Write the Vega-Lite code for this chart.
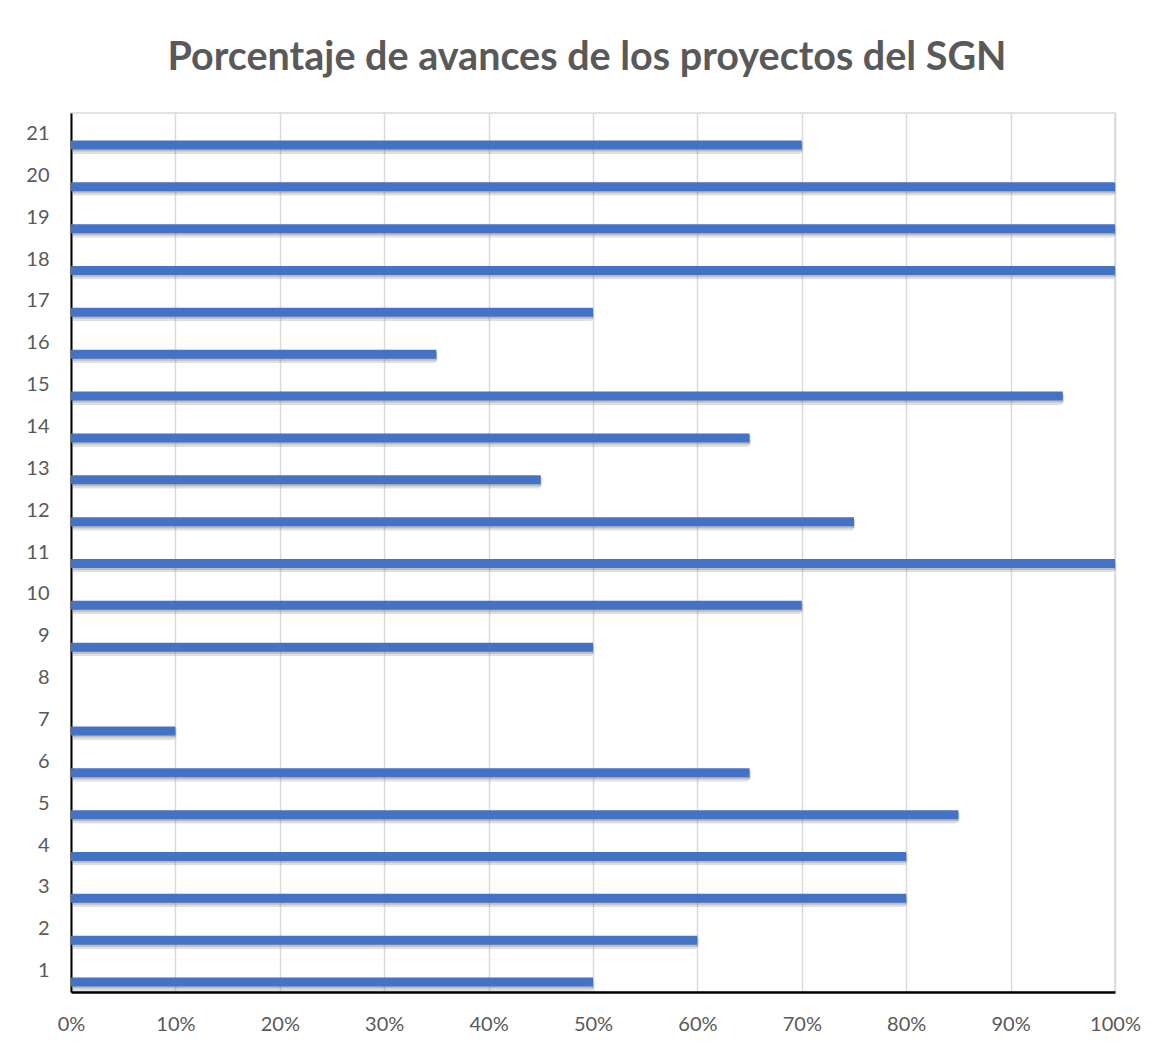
{
  "$schema": "https://vega.github.io/schema/vega-lite/v6.json",
  "autosize": "none",
  "width": 1044,
  "height": 879,
  "padding": {"left": 71, "top": 113, "right": 55, "bottom": 59},
  "background": "white",
  "title": {
    "text": "Porcentaje de avances de los proyectos del SGN",
    "font": "Lato",
    "fontSize": 39.5,
    "fontWeight": "bold",
    "color": "#595959",
    "anchor": "middle",
    "offset": 35,
    "dx": -6
  },
  "data": {
    "values": [
      {"proyecto": "1", "avance": 0.5},
      {"proyecto": "2", "avance": 0.6},
      {"proyecto": "3", "avance": 0.8},
      {"proyecto": "4", "avance": 0.8},
      {"proyecto": "5", "avance": 0.85},
      {"proyecto": "6", "avance": 0.65},
      {"proyecto": "7", "avance": 0.1},
      {"proyecto": "8", "avance": 0},
      {"proyecto": "9", "avance": 0.5},
      {"proyecto": "10", "avance": 0.7},
      {"proyecto": "11", "avance": 1.0},
      {"proyecto": "12", "avance": 0.75},
      {"proyecto": "13", "avance": 0.45},
      {"proyecto": "14", "avance": 0.65},
      {"proyecto": "15", "avance": 0.95},
      {"proyecto": "16", "avance": 0.35},
      {"proyecto": "17", "avance": 0.5},
      {"proyecto": "18", "avance": 1.0},
      {"proyecto": "19", "avance": 1.0},
      {"proyecto": "20", "avance": 1.0},
      {"proyecto": "21", "avance": 0.7}
    ]
  },
  "encoding": {
    "y": {
      "field": "proyecto",
      "type": "ordinal",
      "scale": {
        "domain": ["21","20","19","18","17","16","15","14","13","12","11","10","9","8","7","6","5","4","3","2","1"],
        "paddingInner": 0,
        "paddingOuter": 0
      },
      "axis": {
        "title": null,
        "domainColor": "#000000",
        "domainWidth": 2,
        "ticks": false,
        "labelPadding": 22,
        "labelFont": "Lato",
        "labelFontSize": 20,
        "labelColor": "#595959",
        "grid": false
      }
    },
    "x": {
      "field": "avance",
      "type": "quantitative",
      "scale": {"domain": [0, 1], "nice": false},
      "axis": {
        "title": null,
        "format": ".0%",
        "values": [0, 0.1, 0.2, 0.3, 0.4, 0.5, 0.6, 0.7, 0.8, 0.9, 1.0],
        "domainColor": "#000000",
        "domainWidth": 2.5,
        "ticks": false,
        "labelPadding": 22,
        "labelFlush": false,
        "labelFont": "Lato",
        "labelFontSize": 20,
        "labelColor": "#595959",
        "grid": true,
        "gridColor": "#d9d9d9",
        "gridWidth": 1.5
      }
    }
  },
  "layer": [
    {
      "mark": {"type": "bar", "height": 11, "yOffset": 14.5, "xOffset": 2, "color": "#7f7f7f", "opacity": 0.25, "cornerRadius": 3}
    },
    {
      "mark": {"type": "bar", "height": 9, "yOffset": 13, "xOffset": 1, "color": "#7f7f7f", "opacity": 0.35}
    },
    {
      "mark": {"type": "bar", "height": 9, "yOffset": 11, "color": "#4472C4"}
    }
  ],
  "config": {
    "view": {"stroke": "#d9d9d9", "strokeWidth": 1.5}
  }
}
